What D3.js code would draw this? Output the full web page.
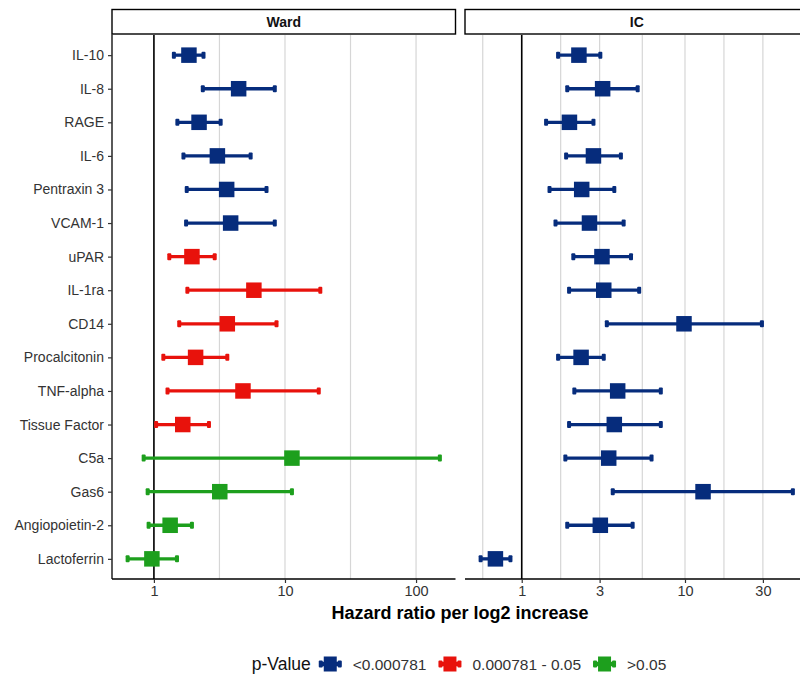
<!DOCTYPE html>
<html>
<head>
<meta charset="utf-8">
<script src="https://cdn.jsdelivr.net/npm/d3@7"></script>
<style>
  html, body { margin: 0; padding: 0; background: #fff; }
  svg { display: block; font-family: "Liberation Sans", Arial, Helvetica, sans-serif; }
</style>
</head>
<body>
<svg id="chart" width="800" height="677"></svg>
<script>
// ---------------- data ----------------
const markers = ["IL-10","IL-8","RAGE","IL-6","Pentraxin 3","VCAM-1","uPAR","IL-1ra","CD14",
  "Procalcitonin","TNF-alpha","Tissue Factor","C5a","Gas6","Angiopoietin-2","Lactoferrin"];

const wardHR = [1.85, 4.43, 2.21, 3.05, 3.59, 3.85, 1.95, 5.79, 3.63, 2.08, 4.78, 1.66, 11.3, 3.18, 1.33, 0.965];
const wardLo = [1.42, 2.36, 1.51, 1.68, 1.78, 1.76, 1.31, 1.80, 1.56, 1.18, 1.27, 1.04, 0.835, 0.896, 0.911, 0.63];
const wardHi = [2.39, 8.36, 3.23, 5.47, 7.23, 8.36, 2.91, 18.6, 8.62, 3.63, 18.1, 2.63, 152, 11.3, 1.95, 1.50];
const wardP  = ["<0.000781","<0.000781","<0.000781","<0.000781","<0.000781","<0.000781",
  "0.000781 - 0.05","0.000781 - 0.05","0.000781 - 0.05","0.000781 - 0.05","0.000781 - 0.05","0.000781 - 0.05",
  ">0.05",">0.05",">0.05",">0.05"];

const icHR = [2.24, 3.13, 1.96, 2.75, 2.33, 2.60, 3.10, 3.18, 9.86, 2.31, 3.87, 3.69, 3.41, 12.9, 3.03, 0.69];
const icLo = [1.67, 1.90, 1.41, 1.87, 1.48, 1.61, 2.07, 1.95, 3.32, 1.67, 2.10, 1.95, 1.85, 3.61, 1.90, 0.56];
const icHi = [3.03, 5.13, 2.75, 4.05, 3.69, 4.21, 4.67, 5.24, 29.6, 3.18, 7.11, 7.11, 6.24, 45.8, 4.78, 0.853];
const icP  = ["<0.000781","<0.000781","<0.000781","<0.000781","<0.000781","<0.000781","<0.000781","<0.000781",
  "<0.000781","<0.000781","<0.000781","<0.000781","<0.000781","<0.000781","<0.000781","<0.000781"];

const pLevels = ["<0.000781", "0.000781 - 0.05", ">0.05"];
const pColors = ["#062c7c", "#e8120c", "#1d9f1d"];

const wardTicks = [1, 10, 100];
const wardMinor = [3.162, 31.62];
const icTicks = [1, 3, 10, 30];
const icMinor = [0.577, 1.732, 5.477, 17.32];

const panelNames = ["Ward", "IC"];
const axisTitle = "Hazard ratio per log2 increase";
const legendTitle = "p-Value";

// ---------------- layout ----------------
const svg = d3.select("#chart");
const yTop = 35, yBottom = 579;
const panels = [
  { name: panelNames[0], x0: 112, x1: 455.5, hr: wardHR, lo: wardLo, hi: wardHi, p: wardP, ticks: wardTicks, minor: wardMinor },
  { name: panelNames[1], x0: 465, x1: 808.5, hr: icHR, lo: icLo, hi: icHi, p: icP, ticks: icTicks, minor: icMinor }
];

const color = d3.scaleOrdinal().domain(pLevels).range(pColors);
const y = d3.scalePoint().domain(markers).range([yTop, yBottom]).padding(0.6);

panels.forEach((pn, pi) => {
  const lmin = Math.log10(d3.min(pn.lo)), lmax = Math.log10(d3.max(pn.hi));
  const ex = (lmax - lmin) * 0.05;
  const x = d3.scaleLog().domain([Math.pow(10, lmin - ex), Math.pow(10, lmax + ex)]).range([pn.x0, pn.x1]);
  const g = svg.append("g");

  // grid
  g.selectAll("line.minor").data(pn.minor).enter().append("line")
    .attr("x1", d => x(d)).attr("x2", d => x(d)).attr("y1", yTop).attr("y2", yBottom)
    .attr("stroke", "#d6d6d6").attr("stroke-width", 1.2);
  g.selectAll("line.major").data(pn.ticks).enter().append("line")
    .attr("x1", d => x(d)).attr("x2", d => x(d)).attr("y1", yTop).attr("y2", yBottom)
    .attr("stroke", "#d6d6d6").attr("stroke-width", 1.2);

  // reference line at 1
  g.append("line").attr("x1", x(1)).attr("x2", x(1)).attr("y1", yTop).attr("y2", yBottom)
    .attr("stroke", "#000").attr("stroke-width", 1.6);

  // strip
  g.append("rect").attr("x", pn.x0).attr("y", 9.5).attr("width", pn.x1 - pn.x0).attr("height", 24.5)
    .attr("fill", "#fff").attr("stroke", "#000").attr("stroke-width", 1.4);
  g.append("text").attr("x", (pn.x0 + pn.x1) / 2).attr("y", 27)
    .attr("text-anchor", "middle").attr("font-size", 14).attr("font-weight", "bold").attr("fill", "#111")
    .text(pn.name);

  // x axis
  const xAxis = d3.axisBottom(x).tickValues(pn.ticks).tickFormat(d3.format("d")).tickSize(4).tickPadding(3);
  const ax = g.append("g").attr("transform", `translate(0,${yBottom})`).call(xAxis);
  ax.select(".domain").attr("stroke", "#000").attr("stroke-width", 1.3).attr("d", `M${pn.x0},0H${pn.x1}`);
  ax.selectAll(".tick line").attr("stroke", "#333").attr("stroke-width", 1.2);
  ax.selectAll(".tick text").attr("font-size", 14.5).attr("fill", "#333").attr("font-family", "Liberation Sans, Arial, sans-serif");

  // y axis for first panel
  if (pi === 0) {
    const yAxis = d3.axisLeft(y).tickSize(4).tickPadding(4);
    const ay = g.append("g").attr("transform", `translate(${pn.x0},0)`).call(yAxis);
    ay.select(".domain").attr("stroke", "#000").attr("stroke-width", 1.3).attr("d", `M0,${yTop - 0.5}V${yBottom}`);
    ay.selectAll(".tick line").attr("stroke", "#333").attr("stroke-width", 1.2);
    ay.selectAll(".tick text").attr("font-size", 14).attr("fill", "#333").attr("font-family", "Liberation Sans, Arial, sans-serif");
  }

  // error bars
  const rows = markers.map((m, i) => ({ m, hr: pn.hr[i], lo: pn.lo[i], hi: pn.hi[i], p: pn.p[i] }));
  const eb = g.selectAll("g.row").data(rows).enter().append("g");
  eb.append("line")
    .attr("x1", d => x(d.lo)).attr("x2", d => x(d.hi)).attr("y1", d => y(d.m)).attr("y2", d => y(d.m))
    .attr("stroke", d => color(d.p)).attr("stroke-width", 3.3);
  eb.append("rect").attr("x", d => x(d.lo) - 2).attr("y", d => y(d.m) - 3.5).attr("width", 4).attr("height", 7)
    .attr("rx", 1).attr("fill", d => color(d.p));
  eb.append("rect").attr("x", d => x(d.hi) - 2).attr("y", d => y(d.m) - 3.5).attr("width", 4).attr("height", 7)
    .attr("rx", 1).attr("fill", d => color(d.p));
  eb.append("rect").attr("x", d => x(d.hr) - 7.75).attr("y", d => y(d.m) - 7.75).attr("width", 15.5).attr("height", 15.5)
    .attr("fill", d => color(d.p));
});

// axis title
svg.append("text").attr("x", 460).attr("y", 619).attr("text-anchor", "middle")
  .attr("font-size", 18).attr("font-weight", "bold").attr("fill", "#000").text(axisTitle);

// legend
const lg = svg.append("g");
const ly = 664;
let cx = 0;
const lt = lg.append("text").attr("x", cx).attr("y", ly + 6).attr("font-size", 17.5).attr("fill", "#111").text(legendTitle);
cx += lt.node().getComputedTextLength() + 8;
pLevels.forEach((lev, i) => {
  const k = lg.append("g").attr("transform", `translate(${cx + 11.5},${ly})`);
  k.append("line").attr("x1", -11).attr("x2", 11).attr("y1", 0).attr("y2", 0)
    .attr("stroke", pColors[i]).attr("stroke-width", 4.5);
  k.append("rect").attr("x", -11.5).attr("y", -3.5).attr("width", 4).attr("height", 7).attr("rx", 1).attr("fill", pColors[i]);
  k.append("rect").attr("x", 7.5).attr("y", -3.5).attr("width", 4).attr("height", 7).attr("rx", 1).attr("fill", pColors[i]);
  k.append("rect").attr("x", -6.5).attr("y", -7.5).attr("width", 13).attr("height", 15).attr("fill", pColors[i]);
  cx += 23 + 11;
  const t = lg.append("text").attr("x", cx).attr("y", ly + 5.5).attr("font-size", 15.5).attr("fill", "#333").text(lev);
  cx += t.node().getComputedTextLength() + (i < pLevels.length - 1 ? 12 : 0);
});
lg.attr("transform", `translate(${459 - cx / 2},0)`);
</script>
</body>
</html>
